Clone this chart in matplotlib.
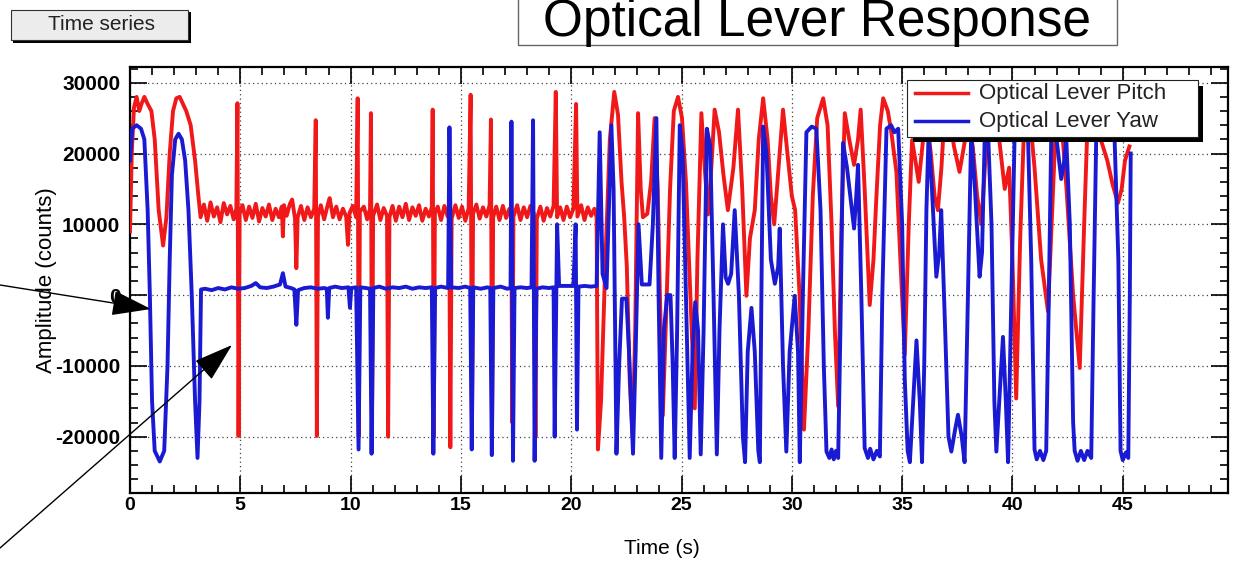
import matplotlib
matplotlib.use('Agg')
import matplotlib.pyplot as plt
from matplotlib.patches import Rectangle, FancyArrowPatch
from matplotlib.lines import Line2D
from matplotlib.ticker import MultipleLocator

plt.rcParams['font.family'] = ['Liberation Sans', 'DejaVu Sans']
plt.rcParams['axes.unicode_minus'] = False

# ---------------- data (time [s], amplitude [counts]) ----------------
pitch_pts = [
    (0.00, 9000), (0.08, 20000), (0.18, 26500), (0.30, 28000), (0.42, 26000), (0.52, 27000),
    (0.65, 28000), (0.80, 27000), (0.97, 26000), (1.12, 22000), (1.30, 12000), (1.50, 7000),
    (1.65, 11000), (1.80, 20000), (1.95, 26000), (2.10, 27800), (2.25, 28000), (2.40, 27000),
    (2.55, 26000), (2.75, 24000), (2.95, 19000), (3.10, 14000),
    (3.20, 11000), (3.35, 12800), (3.50, 10500), (3.65, 13100), (3.80, 11100), (3.95, 12400),
    (4.10, 10300), (4.25, 13000), (4.40, 11400), (4.55, 12600), (4.70, 10700), (4.82, 12200),
    (4.87, 27100), (4.92, -19900), (4.97, 11500), (5.10, 12700), (5.25, 10600), (5.40, 12500),
    (5.55, 10900), (5.70, 12900), (5.85, 10400), (6.00, 12300), (6.15, 11100), (6.30, 12800),
    (6.45, 10600), (6.60, 12200), (6.75, 11000), (6.88, 12500), (6.93, 8300), (6.98, 12700),
    (7.10, 11200), (7.25, 12900), (7.35, 13500), (7.48, 10800), (7.54, 3800), (7.60, 11000),
    (7.75, 12600), (7.90, 10600), (8.05, 12400), (8.20, 11000), (8.35, 12200), (8.42, 24700),
    (8.47, -19900), (8.52, 11100), (8.65, 12700), (8.80, 10700), (8.95, 12600), (9.05, 13700),
    (9.20, 11000), (9.35, 12500), (9.50, 10700), (9.65, 12200), (9.80, 11100), (9.88, 7100),
    (9.95, 11600), (10.10, 12600), (10.25, 11000), (10.32, 27800), (10.37, -20000), (10.42, 11800),
    (10.60, 12500), (10.75, 10700), (10.88, 12200), (10.92, 25700), (10.97, -20000), (11.02, 11200),
    (11.20, 12800), (11.35, 10600), (11.50, 12300), (11.65, 11200), (11.70, -20000), (11.76, 11000),
    (11.90, 12600), (12.05, 10500), (12.20, 12500), (12.35, 11000), (12.50, 12900), (12.65, 10600),
    (12.80, 12400), (12.95, 11200), (13.10, 12700), (13.25, 10500), (13.40, 12200), (13.55, 11100),
    (13.68, 12400), (13.72, 26200), (13.77, -20000), (13.82, 11600), (13.95, 12500), (14.10, 10600),
    (14.25, 12600), (14.40, 11100), (14.47, 11800), (14.52, -21500), (14.58, 10800), (14.75, 12700),
    (14.90, 10900), (15.05, 12500), (15.20, 10500), (15.35, 12300), (15.44, 28300), (15.50, -20000),
    (15.55, 11500), (15.70, 12800), (15.85, 10800), (16.00, 12400), (16.15, 11100), (16.30, 12700),
    (16.36, 24800), (16.41, -20000), (16.46, 11000), (16.60, 12500), (16.75, 10600), (16.90, 12600),
    (17.05, 10900), (17.20, 12200), (17.28, 11500), (17.33, -18000), (17.38, 11100), (17.55, 12700),
    (17.70, 10600), (17.85, 12400), (18.00, 11000), (18.15, 12600), (18.30, 11600), (18.38, -20000),
    (18.44, 10800), (18.60, 12500), (18.75, 10500), (18.90, 12300), (19.05, 11100), (19.20, 12600),
    (19.30, 28700), (19.36, 11000), (19.50, 12400), (19.65, 10600), (19.80, 12500), (19.95, 11000),
    (20.10, 12200), (20.22, 27000), (20.28, 11100), (20.45, 12700), (20.60, 10600), (20.75, 12400),
    (20.90, 11200), (21.05, 12200), (21.15, 11000), (21.21, -21800),
    (21.35, -15000), (21.55, 5000), (21.75, 22000), (21.95, 28700), (22.12, 25500), (22.28, 16000),
    (22.40, 11000), (22.52, 4000), (22.65, -12000), (22.78, -20000), (22.90, -5000), (23.03, 25700),
    (23.15, 15000), (23.25, 11000), (23.45, 11500), (23.62, 16000), (23.78, 25000), (23.92, 15000),
    (24.02, 0), (24.15, -17000), (24.30, -3000), (24.48, 15000), (24.65, 26000), (24.84, 28000),
    (25.02, 25000), (25.20, 16000), (25.40, 0), (25.60, -16000), (25.72, 5000), (25.90, 25700),
    (26.05, 18000), (26.20, 11400), (26.35, 18000), (26.50, 26200), (26.70, 23000), (26.90, 17000),
    (27.10, 12000), (27.35, 18000), (27.56, 26200), (27.75, 15000), (27.94, -100), (28.10, 8000),
    (28.32, 12000), (28.50, 22000), (28.70, 27800), (28.90, 22000), (29.05, 14000), (29.20, 10000),
    (29.40, 18000), (29.60, 26200), (29.80, 20000), (30.00, 14000), (30.15, 12000), (30.35, 0),
    (30.55, -19000), (30.75, -5000), (30.95, 14000), (31.15, 25000), (31.42, 27800), (31.62, 24000),
    (31.80, 10000), (31.95, -5000), (32.10, -15700), (32.25, 10000), (32.40, 25700), (32.60, 22000),
    (32.82, 18400), (33.00, 22000), (33.12, 26200), (33.30, 15000), (33.53, -1400), (33.70, 5000),
    (33.83, 13700), (34.00, 24000), (34.14, 27800), (34.35, 26000), (34.51, 23000), (34.74, 17400),
    (34.92, 5000), (35.12, -8400), (35.30, 10000), (35.45, 21900), (35.60, 19000), (35.75, 16000),
    (35.95, 22000), (36.15, 24000), (36.30, 20000), (36.47, 14000), (36.62, 12000), (36.78, 18000),
    (36.93, 26000), (37.15, 25000), (37.35, 21000), (37.60, 17400), (37.80, 21000), (37.98, 24500),
    (38.20, 21000), (38.40, 14000), (38.59, 10000), (38.75, 18000), (38.89, 25000), (39.10, 25500),
    (39.40, 22000), (39.65, 15000), (39.85, 18000), (40.00, 5000), (40.17, -14600), (40.35, 8000),
    (40.55, 26000), (40.80, 25000), (41.00, 18000), (41.30, 5000), (41.61, -2300), (41.80, 12000),
    (41.99, 26000), (42.20, 25500), (42.45, 15000), (42.75, 0), (43.05, -10300), (43.25, 10000),
    (43.42, 26000), (43.70, 25000), (44.00, 22000), (44.30, 19000), (44.55, 15500), (44.78, 13000),
    (44.95, 15000), (45.10, 19000), (45.30, 21000),
]

yaw_pts = [
    (0.00, 19000), (0.10, 23500), (0.30, 24000), (0.50, 23500), (0.65, 22000), (0.80, 12000),
    (0.90, 0), (1.00, -15000), (1.12, -22000), (1.35, -23500), (1.55, -22000), (1.70, -10000),
    (1.80, 5000), (1.90, 17000), (2.05, 22000), (2.20, 22800), (2.35, 22000), (2.50, 19000),
    (2.65, 12000), (2.80, 0), (2.95, -15000), (3.06, -23000), (3.15, -15000), (3.22, 800),
    (3.40, 900), (3.70, 700), (4.00, 1000), (4.30, 800), (4.60, 1100), (4.90, 900), (5.20, 1000),
    (5.50, 1300), (5.70, 1700), (5.90, 1100), (6.20, 1000), (6.50, 1200), (6.80, 1500), (6.93, 3100),
    (7.05, 1200), (7.30, 1000), (7.45, 800), (7.54, -4200), (7.62, 700), (7.90, 1000), (8.20, 1100),
    (8.50, 900), (8.80, 1000), (8.92, 900), (8.97, -3200), (9.03, 1000), (9.30, 1200), (9.60, 1000),
    (9.90, 1100), (9.97, -1800), (10.03, 1000), (10.25, 1100), (10.36, -21800), (10.44, 1100),
    (10.70, 1000), (10.88, 900), (10.95, -22400), (11.03, 1000), (11.30, 1200), (11.60, 900),
    (11.90, 1100), (12.20, 1000), (12.50, 1200), (12.80, 900), (13.10, 1100), (13.40, 1000),
    (13.68, 1100), (13.75, -22400), (13.83, 1000), (14.10, 1200), (14.42, 1000), (14.48, 23700),
    (14.56, 1100), (14.90, 1000), (15.20, 1200), (15.42, 1000), (15.49, -21800), (15.56, 1100),
    (15.90, 900), (16.20, 1100), (16.33, 1000), (16.40, -22600), (16.47, 1000), (16.80, 1200),
    (17.10, 900), (17.25, 1000), (17.29, 24500), (17.36, -23400), (17.43, 1000), (17.70, 1100),
    (18.00, 1000), (18.20, 1100), (18.27, 24700), (18.34, -23400), (18.42, 900), (18.70, 1100),
    (19.00, 1000), (19.20, 1100), (19.25, -20000), (19.36, 10000), (19.45, 1300), (19.80, 1300),
    (20.10, 1300), (20.20, 10000), (20.26, -19000), (20.33, 1200), (20.60, 1300), (20.90, 1200),
    (21.15, 1300), (21.29, 23000),
    (21.42, 3000), (21.60, 1000), (21.82, 24000), (21.92, 15000), (22.05, -22400), (22.17, -10000),
    (22.30, -500), (22.50, -500), (22.62, -8000), (22.80, -22400), (22.92, -8000), (23.05, 10000),
    (23.20, 1500), (23.55, 1500), (23.70, 10000), (23.86, 25000), (23.96, 0), (24.08, -23000),
    (24.20, -5000), (24.35, 0), (24.50, 0), (24.60, -10000), (24.69, -23000), (24.80, -5000),
    (24.92, 24000), (25.05, 20000), (25.20, 0), (25.37, -23000), (25.50, -8000), (25.62, -1000),
    (25.75, -5000), (25.87, -22500), (26.00, -5000), (26.15, 23500), (26.30, 21000), (26.45, 0),
    (26.60, -22500), (26.72, -5000), (26.88, 10000), (27.00, 2500), (27.11, 1600), (27.25, 3000),
    (27.41, 12000), (27.60, 0), (27.78, -20000), (27.88, -23600), (28.00, -8000), (28.17, -1800),
    (28.32, -8000), (28.48, -22000), (28.55, -23600), (28.62, 0), (28.70, 23800), (28.85, 20000),
    (29.05, 5000), (29.23, 1600), (29.38, 4000), (29.45, 9400), (29.60, -10000), (29.75, -22100),
    (29.90, -8000), (30.13, -100), (30.28, -8000), (30.36, -23600), (30.50, 0), (30.66, 23000),
    (30.90, 23800), (31.11, 23500), (31.30, 12000), (31.45, -10000), (31.57, -22100), (31.70, -23000),
    (31.80, -21800), (31.90, -23200), (32.00, -22000), (32.10, -23000), (32.20, -5000), (32.32, 21500),
    (32.50, 18000), (32.65, 14000), (32.82, 9400), (32.92, 14000), (33.00, 18400), (33.15, 0),
    (33.30, -21600), (33.45, -23000), (33.55, -21700), (33.70, -23200), (33.85, -22000), (33.99, -22800),
    (34.10, 0), (34.29, 23500), (34.50, 24000), (34.65, 23000), (34.82, 23500), (35.00, 10000),
    (35.12, -12000), (35.25, -22000), (35.35, -23600), (35.50, -15000), (35.65, -6400), (35.80, -15000),
    (35.90, -23600), (36.00, -10000), (36.10, 12000), (36.20, 23000), (36.35, 15000), (36.55, 2600),
    (36.68, 6000), (36.77, 12000), (36.95, -5000), (37.10, -20000), (37.23, -22100), (37.40, -19000),
    (37.53, -16900), (37.70, -20000), (37.83, -23600), (37.95, -5000), (38.13, 23000), (38.30, 15000),
    (38.51, 2600), (38.62, 6000), (38.74, 22000), (38.90, 22500), (39.05, 10000), (39.18, -15000),
    (39.27, -22100), (39.40, -15000), (39.57, -5900), (39.70, -15000), (39.80, -23600), (39.95, 0),
    (40.10, 23000), (40.40, 24000), (40.70, 23000), (40.85, 5000), (41.00, -21800), (41.10, -23200),
    (41.25, -22000), (41.40, -23300), (41.53, -22000), (41.65, 0), (41.76, 23000), (42.00, 22000),
    (42.21, 16400), (42.35, 19000), (42.44, 22000), (42.60, 10000), (42.75, -18000), (42.82, -22000),
    (42.95, -23400), (43.10, -22000), (43.25, -23300), (43.40, -22000), (43.57, -23000), (43.68, 0),
    (43.80, 23000), (44.10, 23500), (44.40, 23000), (44.63, 22000), (44.80, 5000), (44.90, -22000),
    (45.00, -23300), (45.15, -22200), (45.25, -23000), (45.32, 0), (45.36, 20000),
]

series_names = ["Optical Lever Pitch", "Optical Lever Yaw"]
series_colors = ["#f01818", "#1a1ad2"]
title_text = "Optical Lever Response"
x_label = "Time (s)"
y_label = "Amplitude (counts)"
button_text = "Time series"

# ---------------- figure ----------------
W, H = 1233, 563
fig = plt.figure(figsize=(W / 100, H / 100), dpi=100)


def fx(x):
    return x / W


def fy(y):
    return 1 - y / H


ax = fig.add_axes([fx(130), fy(493), (1228 - 130) / W, (493 - 67) / H])
pt, pv = zip(*pitch_pts)
yt, yv = zip(*yaw_pts)
ax.plot(pt, pv, color=series_colors[0], lw=2.8, solid_joinstyle='round', zorder=3)
ax.plot(yt, yv, color=series_colors[1], lw=2.8, solid_joinstyle='round', zorder=4)

ax.set_xlim(0, 49.77)
ax.set_ylim(-27950, 32220)
ax.xaxis.set_major_locator(MultipleLocator(5))
ax.xaxis.set_minor_locator(MultipleLocator(1))
ax.yaxis.set_major_locator(MultipleLocator(10000))
ax.yaxis.set_minor_locator(MultipleLocator(2000))
ax.grid(True, which='major', linestyle=(0, (1, 2.5)), color='#444444', lw=0.9)
ax.set_axisbelow(True)
ax.tick_params(which='both', direction='in', top=True, right=True, width=1.2)
ax.tick_params(which='major', length=12)
ax.tick_params(which='minor', length=6)
ax.tick_params(axis='x', which='major', pad=3, labelsize=14)
ax.tick_params(axis='y', which='major', pad=7, labelsize=15)
for lab in ax.get_xticklabels() + ax.get_yticklabels():
    lab.set_fontweight('bold')
for sp in ax.spines.values():
    sp.set_linewidth(1.6)

ax.set_xlabel(x_label, fontsize=15)
ax.xaxis.set_label_coords((662 - 130) / 1098, (493 - 539) / 426)
ax.set_ylabel(y_label, fontsize=16)
ax.yaxis.set_label_coords((57 - 130) / 1098, 0.5)

# ---------------- legend (drawn by hand, ROOT style with shadow) ----------------
fig.add_artist(Rectangle((fx(913), fy(142)), (1203 - 913) / W, (142 - 86) / H,
                         transform=fig.transFigure, facecolor='black', edgecolor='none', zorder=5))
fig.add_artist(Rectangle((fx(907), fy(137)), (1198 - 907) / W, (137 - 80) / H,
                         transform=fig.transFigure, facecolor='white', edgecolor='#222222',
                         lw=0.8, zorder=6))
for i, (name, col) in enumerate(zip(series_names, series_colors)):
    yy = 93 + i * 28
    fig.add_artist(Line2D([fx(915), fx(968)], [fy(yy), fy(yy)], transform=fig.transFigure,
                          color=col, lw=2.5, zorder=7))
    fig.text(fx(979), fy(yy), name, fontsize=16, color='#222222', va='center', ha='left', zorder=7)

# ---------------- title box ----------------
fig.add_artist(Rectangle((fx(518), fy(45)), (1117 - 518) / W, 60 / H,
                         transform=fig.transFigure, facecolor='white', edgecolor='#666666',
                         lw=1.0, zorder=5))
fig.text(fx(817), fy(36), title_text, fontsize=37, ha='center', va='baseline', zorder=6)

# ---------------- "Time series" button ----------------
fig.add_artist(Rectangle((fx(13), fy(43)), (191 - 13) / W, (43 - 12) / H,
                         transform=fig.transFigure, facecolor='black', edgecolor='none', zorder=5))
fig.add_artist(Rectangle((fx(11), fy(40)), (188 - 11) / W, (40 - 10) / H,
                         transform=fig.transFigure, facecolor='#ececec', edgecolor='#333333',
                         lw=0.8, zorder=6))
fig.text(fx(101), fy(25), button_text, fontsize=15, ha='center', va='center',
         color='#222222', zorder=7)

# ---------------- annotation arrows ----------------
for (x0, y0), (x1, y1) in [((0, 285), (151, 309)), ((0, 548), (232, 345))]:
    arr = FancyArrowPatch((fx(x0), fy(y0)), (fx(x1), fy(y1)), transform=fig.transFigure,
                          arrowstyle='-|>,head_length=2.5,head_width=0.8', mutation_scale=10,
                          lw=1.0, color='black', shrinkA=0, shrinkB=0, zorder=8)
    fig.add_artist(arr)

fig.savefig('out.png', dpi=100)
